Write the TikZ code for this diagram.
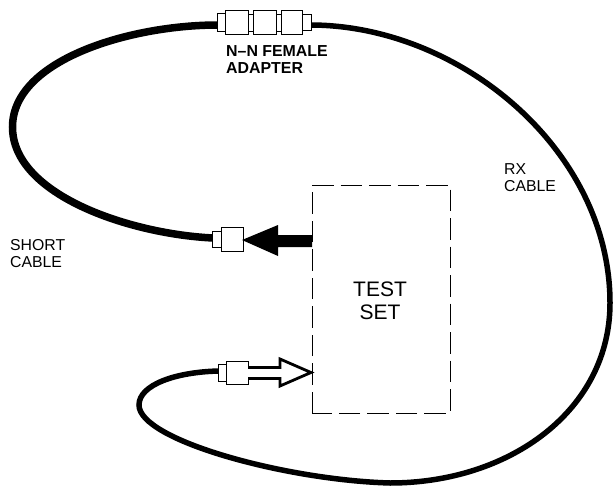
\documentclass[tikz,border=0pt]{standalone}
\usepackage{fontspec}
\setmainfont{Liberation Sans}
\tikzset{
 conn/.style={draw=black,fill=white,line width=0.8pt},
 shortcable/.style={line width=7.5pt},
 rxcable/.style={line width=5.5pt},
 label/.style={font=\fontsize{15.8pt}{17.5pt}\selectfont,align=left,inner sep=0pt,anchor=north west},
}
\begin{document}
\begin{tikzpicture}[x=1pt,y=-1pt]
\useasboundingbox (0,0) rectangle (613,487);
\coordinate (a) at (218,25);
\coordinate (b) at (310,25);
\coordinate (s) at (213,238);
\coordinate (w) at (219,371);
\draw[shortcable] (a) .. controls (130,25) and (12.5,60) .. (12.5,127) .. controls (12.5,195) and (130,234) .. (s);
\draw[rxcable] (b) .. controls (460,25) and (610,150) .. (610,303) .. controls (610,410) and (510,483) .. (390,483) .. controls (285,480) and (139,440) .. (139,405) .. controls (139,385) and (175,372) .. (w);
\draw[conn] (217,13) rectangle (225,31);
\draw[conn] (248,14) rectangle (253,31);
\draw[conn] (276,14) rectangle (281,31);
\draw[conn] (302,14) rectangle (311,30);
\draw[conn] (225.5,10) rectangle (248,34);
\draw[conn] (253,10) rectangle (276,34);
\draw[conn] (281,10) rectangle (302,34);
\draw[conn] (212,231) rectangle (221,247);
\draw[conn] (221,227) rectangle (243,251);
\draw[conn] (218,364) rectangle (226,381);
\draw[conn] (226,361) rectangle (248,384.5);
\fill[black] (312,235) -- (278,235) -- (278,225) -- (242,240) -- (278,256) -- (278,247) -- (312,247) -- cycle;
\draw[line width=2.8pt,fill=white,line join=miter] (248,367.5) -- (280,367.5) -- (280,359) -- (311,372.5) -- (280,386) -- (280,378.5) -- (248,378.5);
\draw[dash pattern=on 21.5pt off 7pt,line width=0.9pt] (312,413) rectangle (450,185);
\node[font=\fontsize{21pt}{23.5pt}\selectfont,align=center,inner sep=0pt] (t) at (380,301) {TEST\\SET};
\node[label,font=\bfseries\fontsize{15.9pt}{17pt}\selectfont] (n) at (226,45) {N–N FEMALE\\ADAPTER};
\node[label] (r) at (504,163) {RX\\CABLE};
\node[label] (c) at (10,239) {SHORT\\CABLE};
\end{tikzpicture}
\end{document}
